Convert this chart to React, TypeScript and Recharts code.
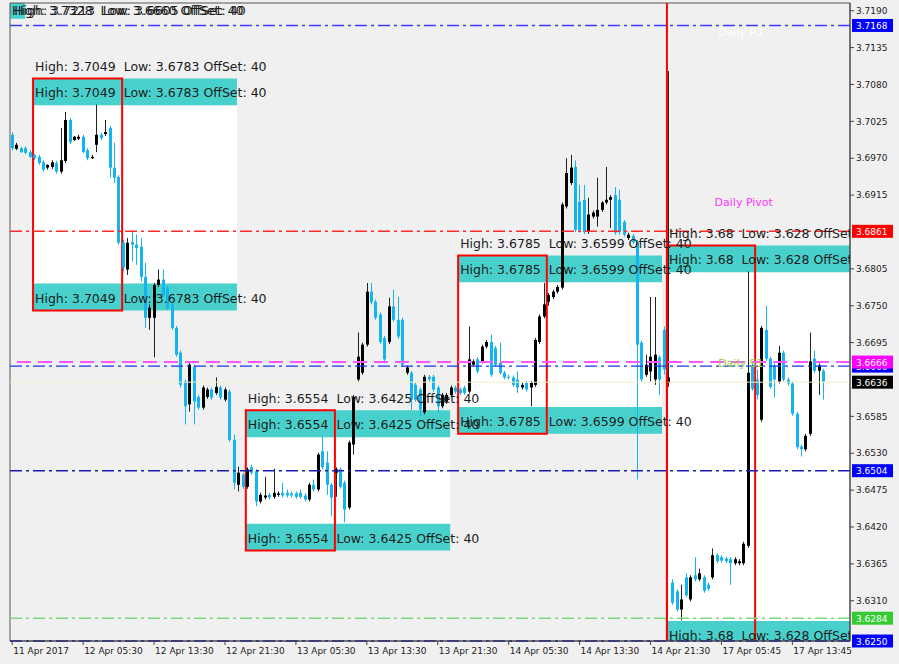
import {
  Bar,
  ComposedChart,
  ReferenceArea,
  ReferenceDot,
  ReferenceLine,
  XAxis,
  YAxis,
} from "recharts";

// 30-minute bars, [open, high, low, close]
const ohlc: [number, number, number, number][] = [
  [3.7005, 3.7009, 3.6982, 3.6985], [3.6984, 3.6993, 3.6982, 3.699], [3.6985, 3.6987, 3.6978, 3.6979],
  [3.6985, 3.6988, 3.6976, 3.6978], [3.6979, 3.6982, 3.697, 3.6972], [3.6975, 3.6976, 3.6967, 3.697],
  [3.6972, 3.6975, 3.696, 3.6963], [3.6964, 3.6967, 3.695, 3.6953], [3.6956, 3.6961, 3.6953, 3.696],
  [3.6957, 3.6967, 3.6954, 3.6964], [3.6963, 3.6966, 3.6947, 3.695], [3.695, 3.7015, 3.6947, 3.6967],
  [3.6966, 3.7039, 3.6963, 3.7027], [3.7027, 3.703, 3.6991, 3.6994], [3.6997, 3.7003, 3.6996, 3.7002],
  [3.6999, 3.7005, 3.6997, 3.7002], [3.7002, 3.7005, 3.6978, 3.6979], [3.6982, 3.6985, 3.6967, 3.697],
  [3.697, 3.6975, 3.6969, 3.6972], [3.699, 3.705, 3.6979, 3.7005], [3.7005, 3.7008, 3.6997, 3.7],
  [3.7006, 3.7027, 3.7003, 3.7009], [3.7015, 3.7018, 3.6941, 3.6956], [3.6956, 3.6993, 3.6933, 3.6941],
  [3.6942, 3.6945, 3.6841, 3.6844], [3.6844, 3.6848, 3.6801, 3.6807], [3.6804, 3.6851, 3.6796, 3.6844],
  [3.6845, 3.686, 3.6816, 3.6841], [3.6841, 3.6856, 3.6811, 3.6836], [3.6838, 3.6851, 3.6786, 3.6793],
  [3.6793, 3.6814, 3.6717, 3.6732], [3.6732, 3.6752, 3.6714, 3.6747], [3.6732, 3.6784, 3.6673, 3.6781],
  [3.6781, 3.6804, 3.6778, 3.6789], [3.6789, 3.6804, 3.6763, 3.6766], [3.6777, 3.678, 3.6744, 3.6747],
  [3.6752, 3.6755, 3.6714, 3.6717], [3.6717, 3.672, 3.6674, 3.6677], [3.668, 3.6683, 3.6628, 3.6632],
  [3.6637, 3.664, 3.6573, 3.66], [3.6603, 3.6667, 3.6592, 3.6662], [3.6659, 3.6662, 3.6573, 3.6607],
  [3.6614, 3.6617, 3.6595, 3.6598], [3.6598, 3.6631, 3.6595, 3.6628], [3.6614, 3.6628, 3.6611, 3.6625],
  [3.6625, 3.6628, 3.661, 3.6613], [3.662, 3.6643, 3.6617, 3.6629], [3.6628, 3.6631, 3.661, 3.6613],
  [3.661, 3.6628, 3.6607, 3.6625], [3.6622, 3.6625, 3.6547, 3.655], [3.655, 3.6558, 3.6476, 3.6486],
  [3.6483, 3.651, 3.6473, 3.6501], [3.6498, 3.6501, 3.6477, 3.648], [3.648, 3.6509, 3.6477, 3.6506],
  [3.6509, 3.6513, 3.6498, 3.6501], [3.6503, 3.6506, 3.6451, 3.6458], [3.6458, 3.6471, 3.6455, 3.6468],
  [3.6464, 3.6495, 3.6461, 3.6467], [3.6468, 3.6471, 3.6461, 3.6464], [3.6465, 3.6507, 3.6462, 3.6471],
  [3.6468, 3.6473, 3.6465, 3.647], [3.6471, 3.6486, 3.6464, 3.6467], [3.6471, 3.6476, 3.6464, 3.6467],
  [3.647, 3.6473, 3.6464, 3.6467], [3.647, 3.6473, 3.6462, 3.6465], [3.6471, 3.6476, 3.6462, 3.6465],
  [3.6467, 3.647, 3.6458, 3.6461], [3.6461, 3.6486, 3.6458, 3.6483], [3.6483, 3.6491, 3.6473, 3.6476],
  [3.6476, 3.6531, 3.6473, 3.6528], [3.6533, 3.6555, 3.6506, 3.6509], [3.6516, 3.6533, 3.6468, 3.6483],
  [3.6483, 3.6486, 3.6436, 3.6464], [3.6501, 3.6509, 3.6465, 3.6506], [3.6506, 3.6509, 3.6477, 3.648],
  [3.6486, 3.6489, 3.6427, 3.6446], [3.6449, 3.6549, 3.6446, 3.6546], [3.6543, 3.6617, 3.6528, 3.6614],
  [3.664, 3.671, 3.6637, 3.6674], [3.665, 3.6695, 3.6647, 3.6692], [3.6692, 3.6784, 3.6689, 3.6771],
  [3.6771, 3.6784, 3.6752, 3.6755], [3.6756, 3.6759, 3.6729, 3.6732], [3.6737, 3.674, 3.6693, 3.6696],
  [3.6702, 3.6705, 3.6667, 3.667], [3.6696, 3.6762, 3.6693, 3.6749], [3.6749, 3.6774, 3.6726, 3.6729],
  [3.6729, 3.6763, 3.6701, 3.6704], [3.6729, 3.6732, 3.6659, 3.6662], [3.665, 3.6661, 3.6647, 3.6658],
  [3.665, 3.6653, 3.6595, 3.661], [3.6632, 3.6635, 3.6607, 3.661], [3.6625, 3.6628, 3.6585, 3.6595],
  [3.6591, 3.6647, 3.6588, 3.6644], [3.6644, 3.6647, 3.6637, 3.664], [3.6644, 3.6647, 3.6622, 3.6625],
  [3.6628, 3.6631, 3.6591, 3.66], [3.66, 3.662, 3.6597, 3.6617], [3.6607, 3.662, 3.6604, 3.6617],
  [3.6617, 3.6631, 3.6614, 3.6628], [3.6628, 3.6631, 3.6619, 3.6622], [3.6625, 3.6628, 3.6617, 3.662],
  [3.6628, 3.6631, 3.6617, 3.662], [3.6622, 3.6719, 3.6619, 3.667], [3.6662, 3.667, 3.6659, 3.6667],
  [3.667, 3.6673, 3.6649, 3.6652], [3.6667, 3.6692, 3.6664, 3.6689], [3.6689, 3.6699, 3.6686, 3.6696],
  [3.6696, 3.6707, 3.6644, 3.6647], [3.6687, 3.669, 3.6659, 3.6662], [3.6665, 3.6695, 3.6647, 3.665],
  [3.665, 3.6653, 3.664, 3.6643], [3.6644, 3.6647, 3.664, 3.6643], [3.6643, 3.6646, 3.6629, 3.6632],
  [3.664, 3.6652, 3.662, 3.6628], [3.6628, 3.6635, 3.6625, 3.6632], [3.6635, 3.6638, 3.6622, 3.6625],
  [3.6628, 3.6638, 3.66, 3.6635], [3.6632, 3.6702, 3.6629, 3.6699], [3.6696, 3.6737, 3.6693, 3.6734],
  [3.6734, 3.6784, 3.6731, 3.6752], [3.6756, 3.6769, 3.675, 3.6766], [3.6763, 3.6774, 3.676, 3.6771],
  [3.6771, 3.6781, 3.6768, 3.6778], [3.6777, 3.6904, 3.6774, 3.6901], [3.6898, 3.697, 3.6895, 3.6948],
  [3.6933, 3.6975, 3.693, 3.6956], [3.6957, 3.6967, 3.686, 3.6863], [3.6905, 3.693, 3.6859, 3.6863],
  [3.6908, 3.693, 3.6857, 3.686], [3.686, 3.6911, 3.6857, 3.6886], [3.6883, 3.6892, 3.688, 3.6889],
  [3.6883, 3.6941, 3.6868, 3.6893], [3.6893, 3.6906, 3.689, 3.6904], [3.6904, 3.6957, 3.6901, 3.6908],
  [3.6908, 3.6915, 3.6866, 3.6912], [3.6915, 3.6927, 3.6856, 3.6859], [3.6908, 3.6923, 3.6856, 3.686],
  [3.6875, 3.6878, 3.6853, 3.6856], [3.6851, 3.6859, 3.6848, 3.6856], [3.6854, 3.6857, 3.6842, 3.6845],
  [3.6845, 3.6848, 3.6491, 3.6692], [3.6695, 3.6698, 3.6637, 3.664], [3.6647, 3.6677, 3.6644, 3.6662],
  [3.6652, 3.6763, 3.6637, 3.6674], [3.664, 3.6763, 3.6632, 3.6677], [3.6673, 3.6676, 3.6617, 3.664],
  [3.6714, 3.6719, 3.6647, 3.6655], [3.6635, 3.71, 3.6629, 3.6643], [3.6337, 3.6342, 3.6304, 3.6307],
  [3.6324, 3.6327, 3.6294, 3.6297], [3.6297, 3.6334, 3.6281, 3.6312], [3.6345, 3.6351, 3.6315, 3.6318],
  [3.6312, 3.6348, 3.6309, 3.6345], [3.6348, 3.6375, 3.6339, 3.6342], [3.6342, 3.6358, 3.6339, 3.6351],
  [3.6345, 3.6348, 3.6322, 3.6325], [3.6334, 3.6337, 3.6325, 3.6328], [3.6345, 3.6388, 3.6342, 3.6378],
  [3.6378, 3.6381, 3.6366, 3.6369], [3.6375, 3.6378, 3.6367, 3.637], [3.6373, 3.6376, 3.6366, 3.6369],
  [3.6372, 3.6375, 3.6334, 3.6366], [3.6366, 3.6375, 3.6363, 3.6372], [3.6366, 3.6372, 3.6363, 3.6369],
  [3.6366, 3.6398, 3.6363, 3.6395], [3.6392, 3.6801, 3.6389, 3.665], [3.6661, 3.6664, 3.6623, 3.6626],
  [3.664, 3.6655, 3.661, 3.6617], [3.658, 3.672, 3.6577, 3.6717], [3.6714, 3.675, 3.6668, 3.6671],
  [3.6671, 3.6674, 3.6626, 3.6629], [3.6661, 3.6664, 3.6613, 3.664], [3.6637, 3.669, 3.6634, 3.668],
  [3.668, 3.6683, 3.6637, 3.664], [3.664, 3.6643, 3.6631, 3.6634], [3.6634, 3.6637, 3.6586, 3.6589],
  [3.6589, 3.6592, 3.6536, 3.6539], [3.654, 3.6543, 3.6525, 3.6536], [3.6536, 3.6559, 3.6533, 3.6556],
  [3.6559, 3.671, 3.6556, 3.6667], [3.6671, 3.6683, 3.665, 3.6653], [3.6653, 3.6664, 3.6617, 3.6661],
  [3.6653, 3.6656, 3.661, 3.6637],
];

const timeTicks = [0, 16, 32, 48, 64, 80, 96, 112, 128, 144, 160, 176];
const timeLabels = [
  "11 Apr 2017", "12 Apr 05:30", "12 Apr 13:30", "12 Apr 21:30", "13 Apr 05:30", "13 Apr 13:30",
  "13 Apr 21:30", "14 Apr 05:30", "14 Apr 13:30", "14 Apr 21:30", "17 Apr 05:45", "17 Apr 13:45",
];
const priceTicks = [
  3.719, 3.7135, 3.708, 3.7025, 3.697, 3.6915, 3.6805, 3.675, 3.6695, 3.6585, 3.653, 3.6475, 3.642,
  3.6365, 3.631,
];

// daily range boxes: high/low of the session, bar span of the session and of the bands
const boxes = [
  { high: 3.7049, low: 3.6783, from: 4.7, split: 24.8, to: 50.7 },
  { high: 3.6554, low: 3.6425, from: 52.7, split: 72.8, to: 98.8 },
  { high: 3.6785, low: 3.6599, from: 100.6, split: 120.6, to: 146.6 },
  { high: 3.68, low: 3.628, from: 147.7, split: 167.6, to: 195 },
];
const offSet = 40;
const pip = 0.0001;

const levels = [
  { price: 3.7168, color: "#3a3aff", dash: "12 4 3 4", width: 1.4 },
  { price: 3.6861, color: "#ff2a2a", dash: "12 4 3 4", width: 1.4 },
  { price: 3.666, color: "#2233ee", dash: "12 4 3 4", width: 1.4 },
  { price: 3.6666, color: "#ff55ff", dash: "14 7", width: 2 },
  { price: 3.6636, color: "#f3f0c6", dash: "", width: 1 },
  { price: 3.6504, color: "#1a1ab0", dash: "12 4 3 4", width: 1.4 },
  { price: 3.6284, color: "#7cd87c", dash: "12 4 3 4", width: 1.6 },
  { price: 3.625, color: "#1a1ab0", dash: "12 4 3 4", width: 1.6 },
];
const tags = [
  { price: 3.7168, bg: "#0000ff" },
  { price: 3.6861, bg: "#ff0000" },
  { price: 3.666, bg: "#0000ff" },
  { price: 3.6666, bg: "#ff00ff" },
  { price: 3.6636, bg: "#000000" },
  { price: 3.6504, bg: "#0000ff" },
  { price: 3.6284, bg: "#33cc33" },
  { price: 3.625, bg: "#0000ff" },
];
const notes = [
  { x: 158, y: 3.6904, text: "Daily Pivot", color: "#ff33ff" },
  { x: 158.8, y: 3.6664, text: "Daily S1", color: "#99cc44" },
  { x: 158.8, y: 3.7157, text: "Daily R1", color: "#ffffff" },
];

const rows = ohlc.map(([o, h, l, c], i) => ({ i, o, h, l, c }));
const FONT = "DejaVu Sans";

const Candle = (props: any) => {
  const { x, y, width, height, payload } = props;
  const { o, h, l, c } = payload;
  const top = Math.min(y, y + height);
  const bot = Math.max(y, y + height);
  const span = h - l || 1e-9;
  const py = (p: number) => top + ((h - p) / span) * (bot - top);
  const cx = Math.round(x + width / 2) + 0.5;
  const up = c > o;
  const body = up ? "#000000" : "#14b4f0";
  const wick = up ? "#222222" : "#14b4f0";
  const bTop = py(Math.max(o, c));
  const bBot = py(Math.min(o, c));
  return (
    <g>
      <line x1={cx} x2={cx} y1={top} y2={bot} stroke={wick} strokeWidth={1} />
      <rect x={cx - 1.5} y={bTop} width={3} height={Math.max(1, bBot - bTop)} fill={body} />
    </g>
  );
};

const Txt = ({ cx, cy, text, dy = 0, color = "#1c1c1c", size = 12.5 }: any) => (
  <text
    x={cx + 2}
    y={cy + dy}
    fill={color}
    fontSize={size}
    fontFamily={FONT}
    dominantBaseline="central"
    clipPath="url(#plot-clip)"
  >
    {text}
  </text>
);

const Tag = ({ cx, cy, value, bg }: any) => (
  <g>
    <rect x={cx + 2} y={cy - 6.5} width={41} height={13} fill={bg} />
    <text x={cx + 6} y={cy + 0.5} dominantBaseline="central" fontSize={9} fontFamily={FONT} fill="#ffffff">
      {value.toFixed(4)}
    </text>
  </g>
);

const TimeTick = (p: any) => (
  <text x={p.x + 1} y={p.y + 1} dominantBaseline="hanging" fontSize={9} fontFamily={FONT} fill="#222">
    {timeLabels[timeTicks.indexOf(p.payload.value)]}
  </text>
);

const boxText = (b: any) => `High: ${b.high}\u00a0\u00a0Low: ${b.low} OffSet: ${offSet}`;

export default function App() {
  const band = offSet * pip;
  return (
    <div style={{ position: "absolute", left: 0, top: 0, width: 899, height: 664, background: "#f0f0f0" }}>
      <ComposedChart width={899} height={664} data={rows} margin={{ top: 3, right: 0, left: 10, bottom: 0 }}>
        <defs>
          <clipPath id="plot-clip">
            <rect x={10} y={3} width={840} height={638} />
          </clipPath>
        </defs>
        <XAxis
          type="number"
          dataKey="i"
          domain={[-0.5, 189]}
          allowDataOverflow
          ticks={timeTicks}
          interval={0}
          height={23}
          tickSize={4}
          stroke="#444"
          tick={TimeTick}
        />
        <YAxis
          orientation="right"
          domain={[3.625, 3.72015]}
          allowDataOverflow
          ticks={priceTicks}
          interval={0}
          width={49}
          tickSize={4}
          tickMargin={2}
          stroke="#444"
          tickFormatter={(v: number) => v.toFixed(4)}
          tick={{ fontSize: 9, fontFamily: FONT, fill: "#222" }}
        />

        <ReferenceArea x1={-0.5} x2={2.9} y1={3.7178} y2={3.72015} fill="#48d1cc" fillOpacity={1} ifOverflow="hidden" />
        {boxes.map((b, k) => (
          <ReferenceArea key={`w${k}`} x1={b.from} x2={b.to} y1={b.low} y2={b.high} fill="#ffffff" fillOpacity={1} ifOverflow="hidden" />
        ))}
        {boxes.map((b, k) => (
          <ReferenceArea key={`t${k}`} x1={b.from} x2={b.to} y1={b.high} y2={b.high + band} fill="#48d1cc" fillOpacity={1} ifOverflow="hidden" />
        ))}
        {boxes.map((b, k) => (
          <ReferenceArea key={`b${k}`} x1={b.from} x2={b.to} y1={b.low - band} y2={b.low} fill="#48d1cc" fillOpacity={1} ifOverflow="hidden" />
        ))}

        {levels.map((l, k) => (
          <ReferenceLine key={`l${k}`} y={l.price} stroke={l.color} strokeWidth={l.width} strokeDasharray={l.dash} />
        ))}

        <ReferenceDot x={-0.5} y={3.719} r={0} ifOverflow="visible"
          shape={(p: any) => <Txt {...p} text={"High: 3.7328\u00a0\u00a0Low: 3.6660 OffSet: 40"} />} />
        <ReferenceDot x={0} y={3.719} r={0} ifOverflow="visible"
          shape={(p: any) => <Txt {...p} text={"High: 3.7213\u00a0\u00a0Low: 3.6605 OffSet: 40"} />} />
        {boxes.map((b, k) => (
          <ReferenceDot key={`a${k}`} x={b.from} y={b.high + band} r={0} ifOverflow="visible"
            shape={(p: any) => <Txt {...p} text={boxText(b)} dy={-12} />} />
        ))}
        {boxes.map((b, k) => (
          <ReferenceDot key={`h${k}`} x={b.from} y={b.high + band / 2} r={0} ifOverflow="visible"
            shape={(p: any) => <Txt {...p} text={boxText(b)} dy={1} />} />
        ))}
        {boxes.map((b, k) => (
          <ReferenceDot key={`o${k}`} x={b.from} y={b.low - band / 2} r={0} ifOverflow="visible"
            shape={(p: any) => <Txt {...p} text={boxText(b)} dy={1} />} />
        ))}
        {notes.map((n, k) => (
          <ReferenceDot key={`n${k}`} x={n.x} y={n.y} r={0} ifOverflow="visible"
            shape={(p: any) => <Txt {...p} text={n.text} color={n.color} size={11} />} />
        ))}

        <Bar dataKey={(d: any) => [d.l, d.h]} barSize={4} shape={Candle} isAnimationActive={false} />

        {boxes.map((b, k) => (
          <ReferenceArea key={`r${k}`} x1={b.from} x2={b.split} y1={b.low - band} y2={b.high + band}
            fill="none" stroke="#ff0000" strokeWidth={2} ifOverflow="hidden" />
        ))}
        <ReferenceLine x={boxes[3].from} stroke="#ff0000" strokeWidth={2} />

        <ReferenceArea x1={-0.5} x2={189} y1={3.625} y2={3.72015} fill="none" stroke="#555" strokeWidth={1} />

        {tags.map((t, k) => (
          <ReferenceDot key={`g${k}`} x={189} y={t.price} r={0} ifOverflow="visible"
            shape={(p: any) => <Tag {...p} value={t.price} bg={t.bg} />} />
        ))}
      </ComposedChart>
    </div>
  );
}
